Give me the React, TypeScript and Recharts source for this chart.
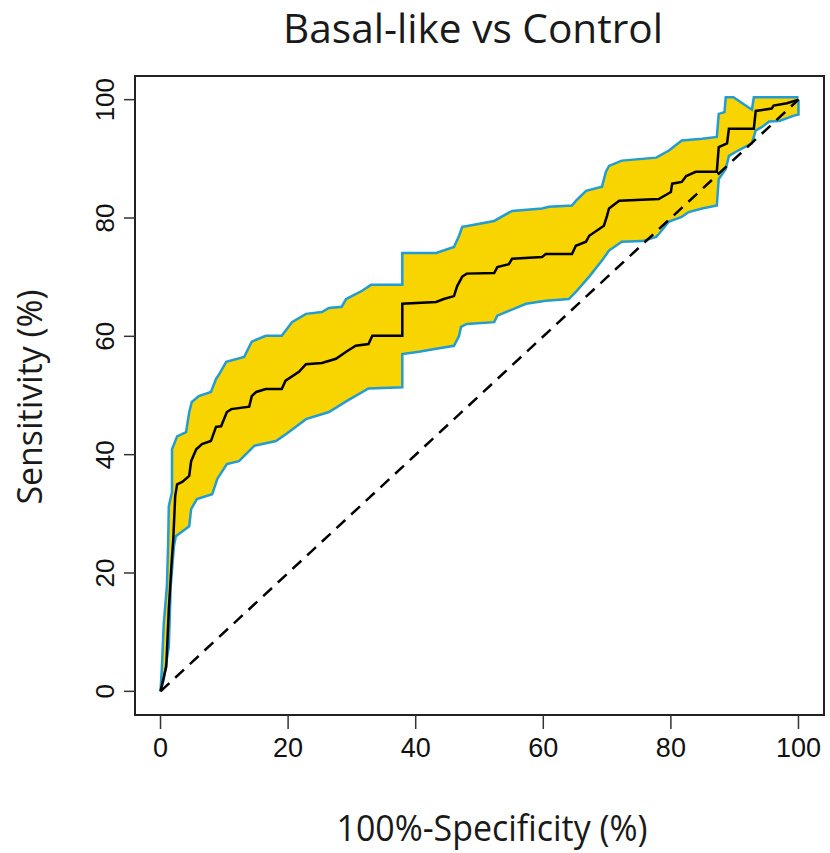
import React from 'react';
import { ComposedChart, Area, Line, XAxis, YAxis, ReferenceArea, ReferenceLine, Customized } from 'recharts';

// ROC curve (100% - specificity, sensitivity)
const rocFpr = [0, 0.9, 1.3, 1.8, 2.0, 2.3, 2.6, 3.4, 4.5, 4.8, 5.6, 6.5, 7.9, 8.7, 9.5, 10.4, 11.1, 13.9, 14.3, 15.0, 16.5, 19.0, 19.6, 21.7, 22.8, 25.3, 27.5, 29.1, 30.6, 32.6, 33.2, 37.9, 37.9, 43.2, 44.4, 46.0, 46.5, 47.3, 48.0, 52.3, 52.8, 54.6, 55.1, 59.8, 60.4, 64.5, 65.1, 66.7, 67.2, 68.3, 69.5, 70.0, 70.3, 71.9, 78.1, 80.0, 80.2, 81.7, 82.4, 83.9, 87.2, 87.5, 88.8, 89.1, 93.0, 93.3, 95.8, 96.1, 98.2, 100];
const rocSens = [0, 4.2, 13.9, 22.8, 25.7, 33.0, 35.0, 35.4, 36.4, 38.9, 40.9, 41.8, 42.3, 44.7, 44.8, 47.2, 47.7, 48.1, 49.9, 50.6, 51.1, 51.1, 52.5, 54.0, 55.3, 55.5, 56.2, 57.4, 58.4, 58.7, 60.1, 60.1, 65.5, 65.8, 66.3, 66.8, 68.5, 70.1, 70.6, 70.7, 71.7, 72.2, 73.1, 73.4, 73.9, 73.9, 75.3, 76.0, 77.0, 77.8, 78.7, 80.4, 81.6, 82.9, 83.2, 84.4, 85.8, 86.1, 87.1, 87.8, 87.8, 92.0, 92.6, 95.1, 95.1, 98.1, 98.5, 99.0, 99.4, 100];

// Upper bound of the sensitivity confidence band
const upperFpr = [0, 0.2, 0.5, 1.0, 1.2, 1.3, 1.8, 1.8, 2.6, 4.0, 4.5, 4.9, 6.0, 7.9, 8.7, 9.2, 10.3, 13.1, 14.3, 16.5, 19.0, 20.6, 22.8, 25.3, 26.4, 28.4, 29.1, 31.6, 33.0, 37.9, 37.9, 43.2, 46.0, 46.8, 47.3, 48.3, 52.3, 55.1, 59.8, 60.9, 64.5, 65.1, 66.7, 69.2, 69.8, 70.3, 72.3, 77.7, 79.7, 81.7, 84.9, 87.2, 87.5, 88.4, 88.6, 89.8, 92.7, 93.0, 100];
const upperSens = [0, 3.7, 11.3, 17.8, 25.2, 31.3, 33.7, 40.9, 43.1, 43.8, 47.2, 48.9, 49.9, 50.6, 52.8, 53.6, 55.7, 56.5, 59.1, 60.1, 60.1, 62.4, 63.8, 64.1, 64.8, 65.0, 66.3, 67.7, 68.7, 68.7, 74.1, 74.1, 75.1, 77.0, 78.5, 78.7, 79.5, 81.2, 81.6, 81.9, 82.1, 82.9, 84.6, 85.3, 87.8, 88.8, 89.7, 90.2, 91.4, 93.1, 93.4, 93.7, 97.6, 97.9, 100.4, 100.4, 98.3, 100.4, 100.4];

// Lower bound of the sensitivity confidence band
const lowerFpr = [0, 0.5, 1.3, 1.6, 2.1, 2.4, 4.5, 4.8, 5.7, 8.1, 8.9, 10.4, 12.3, 14.7, 18.1, 19.7, 22.8, 26.4, 29.1, 32.6, 37.9, 37.9, 40.5, 43.2, 46.0, 46.8, 47.1, 48.0, 52.3, 52.8, 57.3, 60.4, 64.0, 65.1, 67.2, 69.2, 70.3, 72.3, 75.5, 77.7, 78.1, 79.7, 81.7, 82.8, 84.9, 87.2, 87.5, 88.6, 89.1, 90.2, 92.7, 93.3, 94.3, 95.4, 97.0, 99.3, 100, 100];
const lowerSens = [0, 2.0, 7.6, 17.8, 24.5, 26.2, 27.9, 30.8, 32.5, 33.3, 35.9, 38.4, 38.9, 41.5, 42.3, 43.5, 46.0, 47.2, 49.0, 51.2, 51.4, 57.0, 57.4, 57.9, 58.4, 60.1, 61.6, 62.1, 62.4, 63.5, 65.5, 66.0, 66.3, 67.5, 70.1, 72.8, 74.5, 76.0, 76.1, 76.8, 77.3, 79.4, 80.2, 81.0, 81.6, 82.1, 86.6, 88.3, 90.5, 91.2, 92.6, 94.8, 95.4, 96.3, 96.4, 97.3, 97.5, 100];

const diagFpr = [0, 100];
const diagSens = [0, 100];

const axisTicks = [0, 20, 40, 60, 80, 100];

const toRows = (xs: number[], ys: number[]) => xs.map((x, i) => ({ x, y: ys[i] }));
const rocData = toRows(rocFpr, rocSens);
const upperData = toRows(upperFpr, upperSens);
const lowerData = toRows(lowerFpr, lowerSens);
const diagData = toRows(diagFpr, diagSens);

const TICK_FONT = '"Liberation Sans", Arial, sans-serif';
const TITLE_FONT = '"Open Sans", "Noto Sans", sans-serif';

const XTick = (props: any) => {
  const { x, y, payload } = props;
  return (
    <text x={x} y={y + 28} textAnchor="middle" fontFamily={TICK_FONT} fontSize={27} fill="#111">
      {payload.value}
    </text>
  );
};

const YTick = (props: any) => {
  const { x, y, payload } = props;
  const bx = x - 10;
  return (
    <text x={bx} y={y} textAnchor="middle" transform={`rotate(-90, ${bx}, ${y})`} fontFamily={TICK_FONT} fontSize={26} fill="#111">
      {payload.value}
    </text>
  );
};

const Titles = () => (
  <g>
    <text x={473} y={43} textAnchor="middle" fontFamily={TITLE_FONT} fontSize={41} fill="#1a1a1a" textLength={380} lengthAdjust="spacingAndGlyphs">
      Basal-like vs Control
    </text>
    <text x={492} y={841} textAnchor="middle" fontFamily={TITLE_FONT} fontSize={36} fill="#1a1a1a" textLength={311} lengthAdjust="spacingAndGlyphs">
      100%-Specificity (%)
    </text>
    <text x={42} y={397} textAnchor="middle" transform="rotate(-90, 42, 397)" fontFamily={TITLE_FONT} fontSize={35} fill="#1a1a1a" textLength={215} lengthAdjust="spacingAndGlyphs">
      Sensitivity (%)
    </text>
  </g>
);

export default function App() {
  return (
    <div style={{ position: 'absolute', left: 0, top: 0, background: '#fff' }}>
      <ComposedChart width={830} height={853} margin={{ top: 76, right: 6, bottom: 0, left: 0 }}>
        <XAxis
          type="number"
          dataKey="x"
          domain={[-4, 104]}
          ticks={axisTicks}
          allowDataOverflow
          height={138}
          axisLine={false}
          tickSize={14}
          tickMargin={0}
          tickLine={{ stroke: '#333', strokeWidth: 1.5 }}
          tick={<XTick />}
        />
        <YAxis
          type="number"
          dataKey="y"
          domain={[-4, 104]}
          ticks={axisTicks}
          allowDataOverflow
          width={135}
          axisLine={false}
          tickSize={11}
          tickMargin={0}
          tickLine={{ stroke: '#333', strokeWidth: 1.5 }}
          tick={<YTick />}
        />
        <Area
          data={upperData}
          dataKey="y"
          type="linear"
          baseValue={0}
          fill="#F8D400"
          fillOpacity={1}
          stroke="#229CD3"
          strokeWidth={2.5}
          dot={false}
          activeDot={false}
          isAnimationActive={false}
        />
        <Area
          data={lowerData}
          dataKey="y"
          type="linear"
          baseValue={-4}
          fill="#ffffff"
          fillOpacity={1}
          stroke="#229CD3"
          strokeWidth={2.5}
          dot={false}
          activeDot={false}
          isAnimationActive={false}
        />
        <ReferenceLine
          segment={[{ x: 100, y: -3 }, { x: 100, y: 97 }]}
          stroke="#ffffff"
          strokeWidth={3}
          ifOverflow="visible"
        />
        <Line
          data={diagData}
          dataKey="y"
          type="linear"
          stroke="#000"
          strokeWidth={2.5}
          strokeDasharray="12 8"
          dot={false}
          activeDot={false}
          isAnimationActive={false}
        />
        <Line
          data={rocData}
          dataKey="y"
          type="linear"
          stroke="#000"
          strokeWidth={2.5}
          dot={false}
          activeDot={false}
          isAnimationActive={false}
        />
        <ReferenceArea x1={-4} x2={104} y1={-4} y2={104} fill="none" fillOpacity={0} stroke="#222" strokeWidth={2} ifOverflow="visible" />
        <Customized component={Titles} />
      </ComposedChart>
    </div>
  );
}
